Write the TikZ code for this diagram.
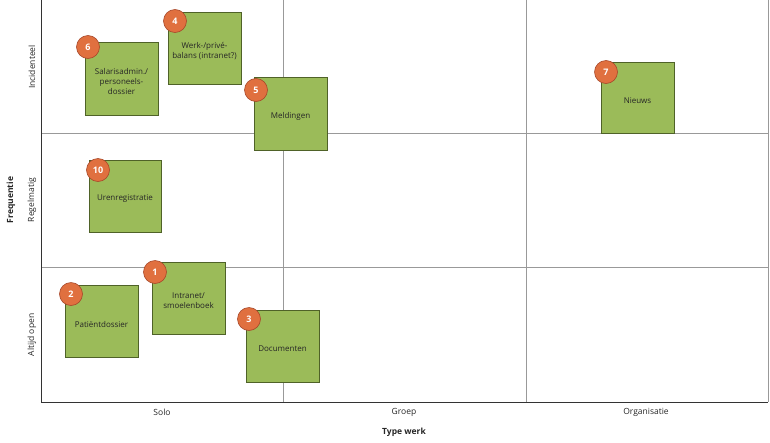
\documentclass[tikz,border=0pt]{standalone}
\usepackage{fontspec}
\setmainfont{Open Sans}
\definecolor{boxg}{HTML}{9BBB59}
\definecolor{boxe}{HTML}{4F6228}
\definecolor{circ}{HTML}{E0703F}
\definecolor{circe}{HTML}{A8482A}
\begin{document}
\begin{tikzpicture}[x=1pt,y=-1pt,
  card/.style={draw=boxe,fill=boxg,line width=0.6pt},
  num/.style={circle,draw=circe,fill=circ,line width=0.6pt,minimum size=23pt,inner sep=0pt,text=white,font=\bfseries\fontsize{9}{10}\selectfont},
  lab/.style={font=\fontsize{8}{10}\selectfont,align=center,text=black!85},
  ax/.style={font=\fontsize{8.5}{10}\selectfont,text=black!85},
  grid/.style={draw=gray!80,line width=0.5pt}]
\useasboundingbox (0,0) rectangle (770,442);
\draw[grid] (283,0) -- (283,402) (526,0) -- (526,402) (768,0) -- (768,402);
\draw[grid] (41,133) -- (768,133) (41,267) -- (768,267);
\draw[black!80,line width=0.8pt] (41,0) -- (41,402) -- (768,402);
\foreach \n/\a/\b/\c/\d/\t/\cx/\cy in {
 6/85/42/158/115/{Salarisadmin./\\personeels-\\dossier}/88/47,
 4/168/12/241/84/{Werk-/privé-\\balans (intranet?)}/175/21,
 5/254/77/327/150/{Meldingen}/256/90,
 7/601/62/674/133/{Nieuws}/606/72,
 10/89/160/161/232/{Urenregistratie}/98/170,
 1/152/262/225/334/{Intranet/\\smoelenboek}/155/272,
 2/65/285/138/357/{Patiëntdossier}/71/294,
 3/246/310/319/382/{Documenten}/249/319}{
  \draw[card] (\a,\b) rectangle (\c,\d);
  \node[lab] (l\n) at ({(\a+\c)/2},{(\b+\d)/2+3}) {\t};
  \node[num] (c\n) at (\cx,\cy) {\n};
}
\node[ax] (s) at (162,412) {Solo};
\node[ax] (g) at (404,412) {Groep};
\node[ax] (o) at (646,412) {Organisatie};
\node[ax,font=\bfseries\fontsize{8.5}{10}\selectfont] (tw) at (404,432) {Type werk};
\node[ax,rotate=90] (i) at (32,67) {Incidenteel};
\node[ax,rotate=90] (r) at (32,200) {Regelmatig};
\node[ax,rotate=90] (ao) at (32,335) {Altijd open};
\node[ax,rotate=90,font=\bfseries\fontsize{8.5}{10}\selectfont] (f) at (11,200) {Frequentie};
\end{tikzpicture}
\end{document}
